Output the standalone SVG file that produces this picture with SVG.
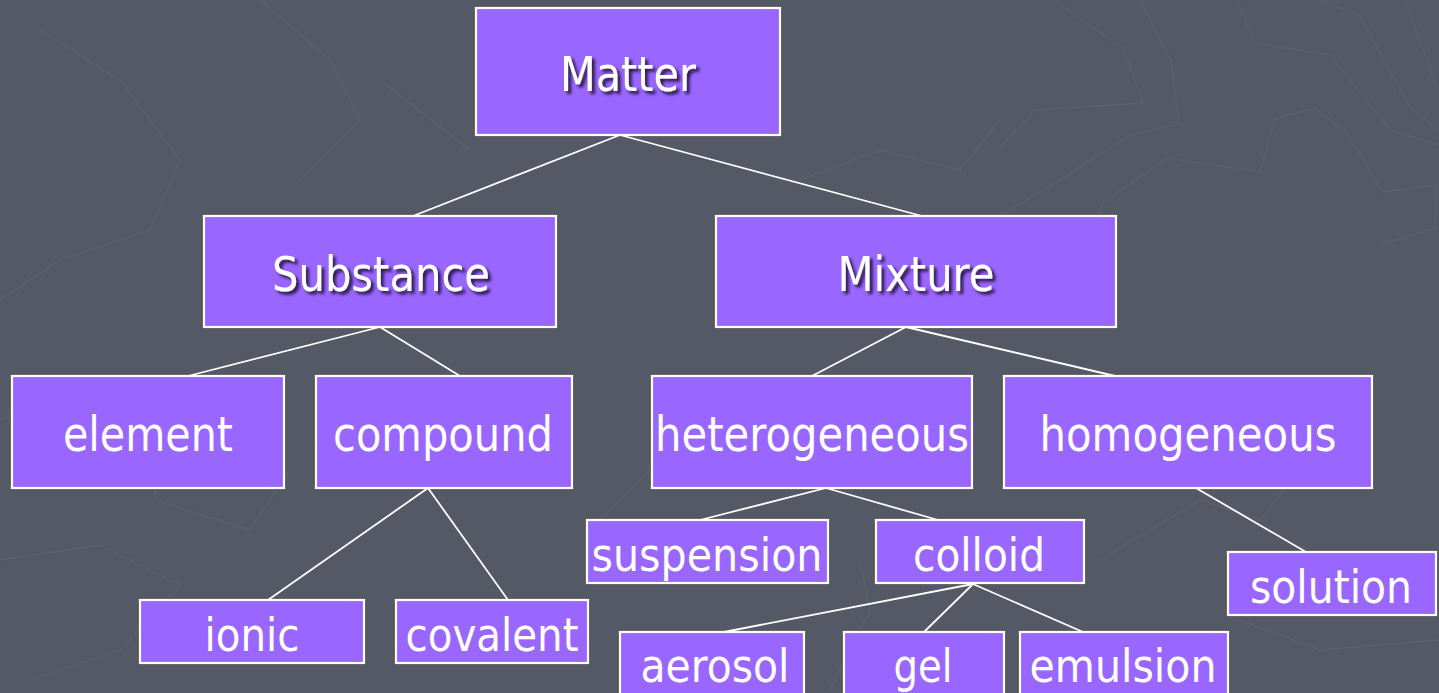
<svg xmlns="http://www.w3.org/2000/svg" width="1439" height="693" viewBox="0 0 1439 693">
<defs>
<style>
.bg{fill:#555865}
.tex{fill:none;stroke:#5c5f6d;stroke-width:1.6}
.box{fill:#9966ff;stroke:#ffffff;stroke-width:2.2}
.lbl{font-family:"DejaVu Sans","Liberation Sans",sans-serif;fill:#ffffff;text-anchor:middle}
.big{font-size:48px}
.sm{font-size:46px}
.conn line{stroke:#ffffff;stroke-width:1.8}
</style>
<filter id="sh" x="-10%" y="-20%" width="130%" height="160%">
<feDropShadow dx="3" dy="3" stdDeviation="1.5" flood-color="#1a1030" flood-opacity="0.9"/>
</filter>
</defs>
<rect class="bg" x="0" y="0" width="1439" height="693"/>
<g id="texture">
<polyline class="tex" points="1053,0 1123,48 1143,103 1035,110 1000,148"/>
<polyline class="tex" points="1140,0 1171,61 1179,124 1130,135 1060,180 1000,215"/>
<polyline class="tex" points="1237,0 1255,43 1330,55 1390,130 1439,145"/>
<polyline class="tex" points="1320,0 1360,16 1410,108 1439,130"/>
<polyline class="tex" points="1405,0 1436,85"/>
<polyline class="tex" points="1097,220 1103,203 1167,158 1260,172 1275,119 1315,108 1349,135 1382,192 1437,185 1435,228 1380,245"/>
<polyline class="tex" points="40,30 120,80 180,160 150,230 60,260 0,300"/>
<polyline class="tex" points="260,0 330,60 360,120 300,180"/>
<polyline class="tex" points="0,420 90,380 160,400 155,500 250,530 290,470"/>
<polyline class="tex" points="0,560 100,545 180,585 120,650 30,680"/>
<polyline class="tex" points="380,80 470,150"/>
<polyline class="tex" points="800,180 880,150 960,170 1000,120"/>
<polyline class="tex" points="600,520 650,470 700,420"/>
<polyline class="tex" points="1100,560 1200,500 1260,520 1300,470"/>
<polyline class="tex" points="1240,620 1320,650 1439,640"/>
<polyline class="tex" points="830,690 870,610 860,560"/>
</g>
<g id="connectors" class="conn">
<line x1="620" y1="135" x2="413" y2="216"/>
<line x1="620" y1="135" x2="922" y2="216"/>
<line x1="380" y1="327" x2="188" y2="376"/>
<line x1="380" y1="327" x2="460" y2="376"/>
<line x1="906" y1="327" x2="812" y2="376"/>
<line x1="906" y1="327" x2="1115" y2="376"/>
<line x1="428" y1="488" x2="268" y2="600"/>
<line x1="428" y1="488" x2="508" y2="600"/>
<line x1="826" y1="488" x2="700" y2="520"/>
<line x1="826" y1="488" x2="938" y2="520"/>
<line x1="1196" y1="488" x2="1306" y2="552"/>
<line x1="973" y1="584" x2="724" y2="632"/>
<line x1="973" y1="584" x2="924" y2="632"/>
<line x1="973" y1="584" x2="1083" y2="632"/>
</g>
<g id="matter"><rect class="box" x="476" y="8" width="304" height="127"/><text class="lbl big" x="628" y="91" filter="url(#sh)" textLength="136" lengthAdjust="spacingAndGlyphs">Matter</text></g>
<g id="substance"><rect class="box" x="204" y="216" width="352" height="111"/><text class="lbl big" x="381" y="291" filter="url(#sh)" textLength="218" lengthAdjust="spacingAndGlyphs">Substance</text></g>
<g id="mixture"><rect class="box" x="716" y="216" width="400" height="111"/><text class="lbl big" x="916" y="291" filter="url(#sh)" textLength="157" lengthAdjust="spacingAndGlyphs">Mixture</text></g>
<g id="element"><rect class="box" x="12" y="376" width="272" height="112"/><text class="lbl big" x="148" y="451" textLength="170" lengthAdjust="spacingAndGlyphs">element</text></g>
<g id="compound"><rect class="box" x="316" y="376" width="256" height="112"/><text class="lbl big" x="443" y="451" textLength="220" lengthAdjust="spacingAndGlyphs">compound</text></g>
<g id="heterogeneous"><rect class="box" x="652" y="376" width="320" height="112"/><text class="lbl big" x="812" y="451" textLength="314" lengthAdjust="spacingAndGlyphs">heterogeneous</text></g>
<g id="homogeneous"><rect class="box" x="1004" y="376" width="368" height="112"/><text class="lbl big" x="1188" y="451" textLength="297" lengthAdjust="spacingAndGlyphs">homogeneous</text></g>
<g id="suspension"><rect class="box" x="587" y="520" width="241" height="63"/><text class="lbl sm" x="707" y="571" textLength="231" lengthAdjust="spacingAndGlyphs">suspension</text></g>
<g id="colloid"><rect class="box" x="876" y="520" width="208" height="63"/><text class="lbl sm" x="979" y="571" textLength="132" lengthAdjust="spacingAndGlyphs">colloid</text></g>
<g id="solution"><rect class="box" x="1228" y="552" width="208" height="63"/><text class="lbl sm" x="1331" y="603" textLength="162" lengthAdjust="spacingAndGlyphs">solution</text></g>
<g id="ionic"><rect class="box" x="140" y="600" width="224" height="63"/><text class="lbl sm" x="252" y="651" textLength="95" lengthAdjust="spacingAndGlyphs">ionic</text></g>
<g id="covalent"><rect class="box" x="396" y="600" width="192" height="63"/><text class="lbl sm" x="492" y="651" textLength="173" lengthAdjust="spacingAndGlyphs">covalent</text></g>
<g id="aerosol"><rect class="box" x="620" y="632" width="184" height="70"/><text class="lbl sm" x="715" y="682" textLength="149" lengthAdjust="spacingAndGlyphs">aerosol</text></g>
<g id="gel"><rect class="box" x="844" y="632" width="160" height="70"/><text class="lbl sm" x="923" y="682" textLength="59" lengthAdjust="spacingAndGlyphs">gel</text></g>
<g id="emulsion"><rect class="box" x="1020" y="632" width="208" height="70"/><text class="lbl sm" x="1123" y="682" textLength="187" lengthAdjust="spacingAndGlyphs">emulsion</text></g>
</svg>
